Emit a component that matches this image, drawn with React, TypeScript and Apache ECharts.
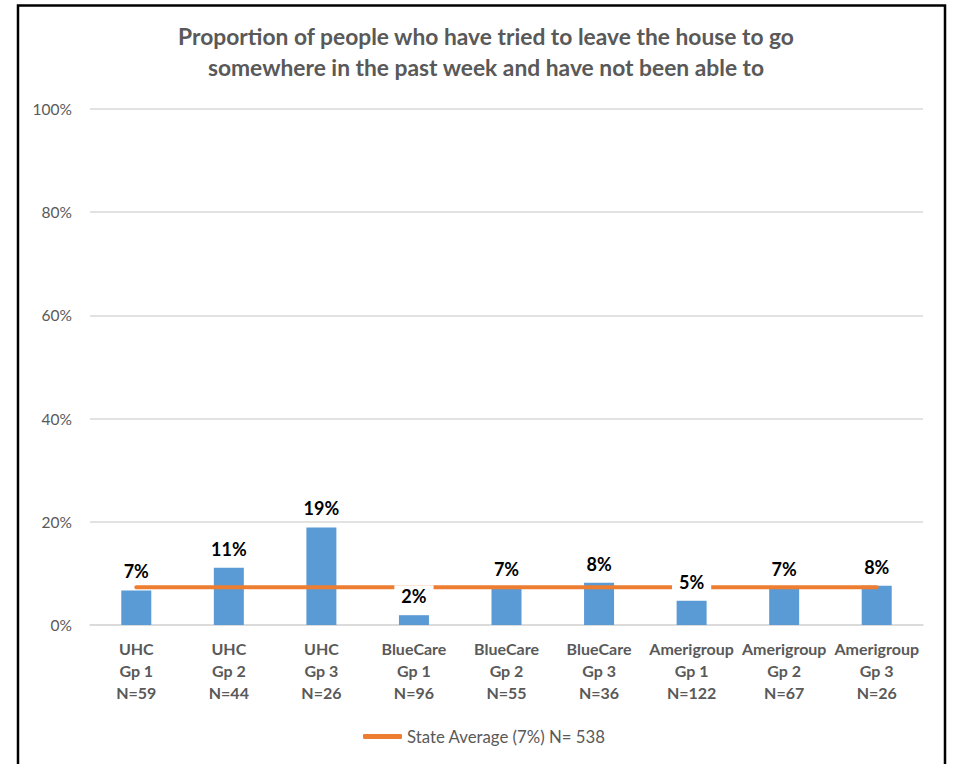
import React, { useEffect, useRef } from "react";
import * as echarts from "echarts";

// Plans and groups along the category axis
const insurers = ["UHC", "UHC", "UHC", "BlueCare", "BlueCare", "BlueCare", "Amerigroup", "Amerigroup", "Amerigroup"];
const groupNames = ["Gp 1", "Gp 2", "Gp 3", "Gp 1", "Gp 2", "Gp 3", "Gp 1", "Gp 2", "Gp 3"];
const sampleSizes = [59, 44, 26, 96, 55, 36, 122, 67, 26];

// Share (%) who tried to leave the house and could not
const percentages = [6.7, 11.1, 18.9, 1.9, 7.2, 8.2, 4.7, 7.2, 7.6];

// Statewide reference line
const stateAverage = 7.3;
const stateSampleSize = 538;

const titleText =
  "Proportion of people who have tried to leave the house to go\nsomewhere in the past week and have not been able to";

const FONT = "Lato, 'Open Sans', sans-serif";
const GRAY = "#595959";

export default function App() {
  const ref = useRef<HTMLDivElement>(null);

  useEffect(() => {
    if (!ref.current) return;
    const chart = echarts.init(ref.current, undefined, { renderer: "svg" });

    const categories = insurers.map((ins, i) => `${ins}\n${groupNames[i]}\nN=${sampleSizes[i]}`);
    const avgName = `State Average (${Math.round(stateAverage)}%) N= ${stateSampleSize}`;

    chart.setOption({
      animation: false,
      backgroundColor: "#ffffff",
      textStyle: { fontFamily: FONT },
      title: {
        text: titleText,
        left: 481,
        top: 15,
        textAlign: "center",
        textStyle: {
          fontFamily: FONT,
          fontSize: 22.8,
          fontWeight: "bold",
          color: GRAY,
          lineHeight: 31,
        },
      },
      graphic: [
        {
          type: "rect",
          shape: { x: 18, y: 5.5, width: 927, height: 800 },
          style: { fill: "none", stroke: "#000", lineWidth: 2.5 },
          silent: true,
          z: 100,
        },
      ],
      legend: {
        data: [avgName],
        left: 358,
        top: 723,
        icon: "roundRect",
        itemWidth: 39,
        itemHeight: 5,
        textStyle: { fontFamily: FONT, fontSize: 16.8, color: GRAY },
      },
      grid: { left: 90, right: 30, top: 109, bottom: 139 },
      xAxis: {
        type: "category",
        data: categories,
        axisTick: { show: false },
        axisLine: { lineStyle: { color: "#D9D9D9", width: 1.5 } },
        axisLabel: {
          interval: 0,
          margin: 13,
          fontFamily: FONT,
          fontSize: 16,
          fontWeight: "bold",
          color: GRAY,
          lineHeight: 21.7,
        },
      },
      yAxis: {
        type: "value",
        min: 0,
        max: 100,
        interval: 20,
        axisLine: { show: false },
        axisTick: { show: false },
        splitLine: { lineStyle: { color: "#D9D9D9", width: 1.5 } },
        axisLabel: {
          formatter: "{value}%",
          margin: 18,
          fontFamily: FONT,
          fontSize: 15.5,
          color: GRAY,
        },
      },
      series: [
        {
          name: "Proportion",
          type: "bar",
          data: percentages,
          barWidth: 30,
          z: 2,
          itemStyle: { color: "#5B9BD5" },
        },
        {
          name: avgName,
          type: "line",
          data: percentages.map(() => stateAverage),
          showSymbol: false,
          symbol: "none",
          z: 3,
          lineStyle: { color: "#ED7D31", width: 4, cap: "round" },
          itemStyle: { color: "#ED7D31" },
        },
        {
          // transparent overlay that carries the value labels above the line
          name: "Labels",
          type: "bar",
          data: percentages,
          barWidth: 30,
          barGap: "-100%",
          z: 5,
          silent: true,
          itemStyle: { color: "rgba(0,0,0,0)" },
          label: {
            show: true,
            position: "top",
            distance: 8,
            formatter: (p: any) => `${Math.round(p.value)}%`,
            fontFamily: FONT,
            fontSize: 18,
            fontWeight: "bold",
            color: "#000",
            backgroundColor: "#ffffff",
            padding: [1, 7],
            lineHeight: 20,
          },
        },
      ],
    });

    return () => chart.dispose();
  }, []);

  return (
    <div
      ref={ref}
      style={{ position: "fixed", left: 0, top: 0, width: 953, height: 764 }}
    />
  );
}
